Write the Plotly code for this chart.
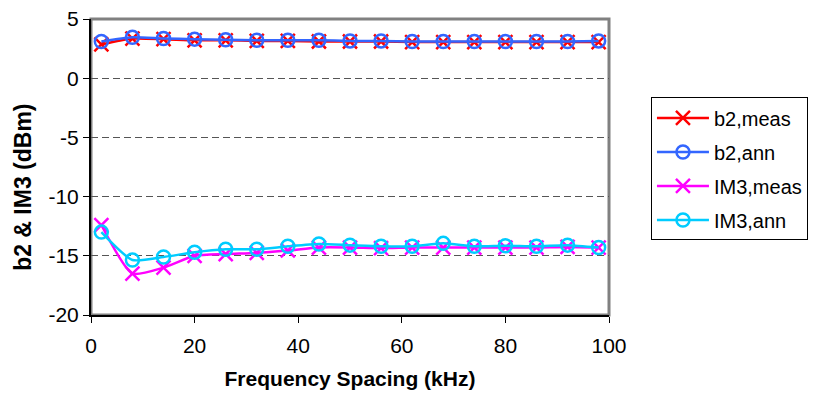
import plotly.graph_objects as go

freq = [2, 8, 14, 20, 26, 32, 38, 44, 50, 56, 62, 68, 74, 80, 86, 92, 98]
b2_meas = [2.85, 3.35, 3.3, 3.2, 3.2, 3.15, 3.15, 3.1, 3.1, 3.1, 3.05, 3.05, 3.05, 3.05, 3.05, 3.05, 3.05]
b2_ann = [3.1, 3.45, 3.35, 3.3, 3.25, 3.2, 3.2, 3.2, 3.15, 3.15, 3.1, 3.1, 3.1, 3.1, 3.1, 3.1, 3.15]
im3_meas = [-12.4, -16.5, -16.0, -15.0, -14.85, -14.75, -14.55, -14.3, -14.3, -14.35, -14.3, -14.3, -14.3, -14.3, -14.3, -14.25, -14.3]
im3_ann = [-13.0, -15.35, -15.1, -14.7, -14.45, -14.45, -14.2, -14.0, -14.1, -14.2, -14.2, -13.95, -14.2, -14.15, -14.2, -14.1, -14.3]

x_ticks = [0, 20, 40, 60, 80, 100]
y_ticks = [5, 0, -5, -10, -15, -20]
y_ticklabels = ["5", "0", "-5", "-10", "-15", "-20"]

series = [
    ("b2,meas", b2_meas, "#FF0000", "x-thin-open", 14),
    ("b2,ann", b2_ann, "#3366FF", "circle-open", 13),
    ("IM3,meas", im3_meas, "#FF00FF", "x-thin-open", 14),
    ("IM3,ann", im3_ann, "#00CCFF", "circle-open", 13),
]

font = "Liberation Sans, Arial, sans-serif"
fig = go.Figure()
for i, (name, vals, color, sym, sz) in enumerate(series):
    fig.add_trace(go.Scatter(
        x=freq, y=vals, name=name, mode="lines+markers",
        line=dict(color=color, width=2.5, shape="spline", smoothing=0.6),
        marker=dict(symbol=sym, size=sz, color=color, line=dict(color=color, width=2.5)),
        legendgroup=f"g{i}",
    ))

fig.update_layout(
    width=814, height=397,
    margin=dict(l=91, r=205, t=19, b=82, autoexpand=False),
    paper_bgcolor="white", plot_bgcolor="white",
    font=dict(family=font, size=21, color="black"),
    showlegend=True,
    legend=dict(
        x=1.081, y=0.735, xanchor="left", yanchor="top",
        bordercolor="black", borderwidth=1, bgcolor="white",
        font=dict(family=font, size=20),
        tracegroupgap=5, itemwidth=52,
    ),
    shapes=[dict(type="rect", xref="paper", yref="paper", x0=0, y0=0, x1=1, y1=1,
                 line=dict(color="#808080", width=3), layer="below")],
    annotations=[dict(
        text="<b>b2 &amp; IM3 (dBm)</b>", xref="paper", yref="paper",
        x=-0.131, y=0.43, xanchor="center", yanchor="middle", textangle=-90,
        showarrow=False, font=dict(family=font, size=23),
    )],
)
fig.update_xaxes(
    range=[0, 100], tickvals=x_ticks, automargin=False,
    showgrid=False, zeroline=False,
    showline=True, linecolor="black", linewidth=2,
    ticks="outside", ticklen=6, tickwidth=1, tickcolor="black",
    tickfont=dict(family=font, size=21), ticklabelstandoff=5,
    title=dict(text="<b>Frequency Spacing (kHz)</b>", font=dict(family=font, size=21), standoff=15),
)
fig.update_yaxes(
    range=[-20, 5], tickvals=y_ticks, ticktext=y_ticklabels, automargin=False,
    showgrid=True, gridcolor="#555555", griddash="7px,4px", gridwidth=1,
    zeroline=False,
    showline=True, linecolor="black", linewidth=2,
    ticks="outside", ticklen=6, tickwidth=1, tickcolor="black",
    tickfont=dict(family=font, size=21),
)
fig.write_html("out.html")
